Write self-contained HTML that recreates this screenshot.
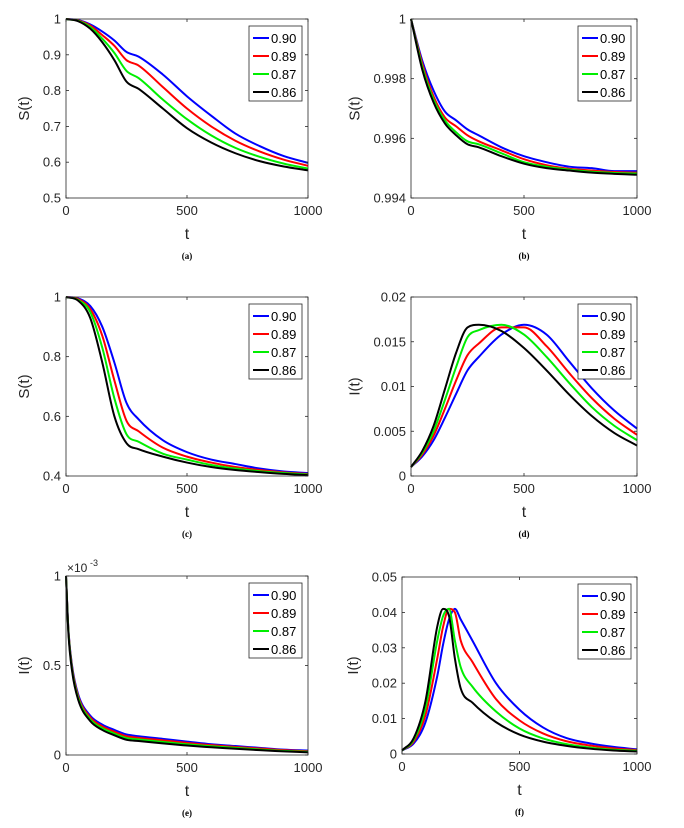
<!DOCTYPE html>
<html><head><meta charset="utf-8">
<style>
body{margin:0;background:#fff;}
svg text{font-family:"Liberation Sans",sans-serif;}
</style></head>
<body>
<svg id="fig" width="684" height="823" xmlns="http://www.w3.org/2000/svg"></svg>
<script>
const legendLabels=["0.90","0.89","0.87","0.86"];
const colors=["#0000ff","#ff0000","#00ee00","#000000"];
// panel a
const tA=[0,50,100,150,200,250,300,400,500,600,700,800,900,1000];
const a90=[1,0.997,0.985,0.965,0.94,0.908,0.895,0.845,0.784,0.73,0.68,0.645,0.617,0.598];
const a89=[1,0.996,0.982,0.955,0.925,0.885,0.87,0.81,0.75,0.70,0.66,0.63,0.607,0.59];
const a87=[1,0.995,0.978,0.945,0.905,0.855,0.835,0.775,0.72,0.675,0.64,0.615,0.596,0.582];
const a86=[1,0.994,0.973,0.935,0.885,0.825,0.805,0.75,0.695,0.655,0.625,0.603,0.588,0.577];
// panel b
const tB=[0,50,100,150,200,250,300,400,500,600,700,800,900,1000];
const b90=[1,0.9986,0.9976,0.9969,0.9966,0.9963,0.9961,0.9957,0.9954,0.9952,0.99505,0.9950,0.9949,0.9949];
const b89=[1,0.9985,0.9974,0.9967,0.9964,0.9961,0.9959,0.9956,0.9953,0.9951,0.99498,0.99492,0.99487,0.99485];
const b87=[1,0.9984,0.9973,0.9966,0.9962,0.9959,0.9958,0.9955,0.9952,0.99505,0.99495,0.99488,0.99484,0.99482];
const b86=[1,0.9983,0.9972,0.9965,0.9961,0.9958,0.9957,0.9954,0.99515,0.995,0.99492,0.99485,0.99481,0.99478];
// panel c
const tC=[0,50,100,150,200,250,300,400,500,600,700,800,900,1000];
const c90=[1,0.995,0.97,0.9,0.78,0.645,0.59,0.52,0.48,0.455,0.44,0.425,0.415,0.41];
const c89=[1,0.993,0.96,0.87,0.72,0.585,0.55,0.495,0.465,0.445,0.43,0.42,0.412,0.407];
const c87=[1,0.99,0.95,0.83,0.66,0.54,0.515,0.475,0.455,0.437,0.425,0.416,0.41,0.405];
const c86=[1,0.988,0.93,0.78,0.6,0.51,0.49,0.465,0.445,0.43,0.42,0.413,0.407,0.403];
// panel d
const tD=[0,50,100,150,200,250,300,400,500,600,700,800,900,1000];
const d90=[0.001,0.0022,0.004,0.0065,0.0092,0.0118,0.0133,0.0158,0.0169,0.0158,0.0128,0.0098,0.0073,0.0053];
const d89=[0.001,0.0024,0.0045,0.0075,0.0107,0.0135,0.0148,0.0166,0.0166,0.0145,0.0115,0.0087,0.0064,0.0046];
const d87=[0.001,0.0026,0.005,0.0085,0.0122,0.0155,0.0163,0.0169,0.0158,0.0133,0.0104,0.0077,0.0056,0.004];
const d86=[0.001,0.0028,0.0056,0.0097,0.0138,0.0166,0.0169,0.0162,0.0143,0.0118,0.0091,0.0067,0.0048,0.0034];
// panel e (x 1e-3)
const tE=[0,10,25,50,100,150,200,250,300,400,500,600,700,800,900,1000];
const e90=[1,0.7,0.5,0.34,0.22,0.17,0.14,0.115,0.105,0.09,0.075,0.06,0.05,0.04,0.03,0.025];
const e89=[1,0.695,0.49,0.33,0.21,0.16,0.13,0.105,0.096,0.082,0.068,0.055,0.045,0.036,0.027,0.021];
const e87=[1,0.69,0.48,0.32,0.2,0.15,0.12,0.095,0.087,0.073,0.06,0.049,0.04,0.031,0.023,0.018];
const e86=[1,0.68,0.47,0.31,0.19,0.14,0.11,0.085,0.078,0.065,0.053,0.043,0.035,0.027,0.02,0.015];
// panel f
const tF=[0,50,100,150,175,200,225,250,300,400,500,600,700,800,900,1000];
const f90=[0.001,0.003,0.009,0.022,0.031,0.038,0.041,0.038,0.032,0.02,0.0125,0.0075,0.0045,0.003,0.002,0.0013];
const f89=[0.001,0.0035,0.011,0.027,0.036,0.041,0.04,0.032,0.026,0.0155,0.0095,0.0058,0.0036,0.0024,0.0016,0.0011];
const f87=[0.001,0.004,0.013,0.032,0.039,0.041,0.032,0.0245,0.019,0.012,0.0072,0.0044,0.0028,0.0018,0.0012,0.0009];
const f86=[0.001,0.0045,0.015,0.036,0.041,0.039,0.027,0.0185,0.0145,0.009,0.0055,0.0035,0.0023,0.0015,0.001,0.0007];

const xTicks=[0,500,1000];
const panels=[
 {id:"a",x0:66,x1:308,y0:19,y1:198,t:tA,s:[a90,a89,a87,a86],ymin:0.5,ymax:1,yt:[0.5,0.6,0.7,0.8,0.9,1],yl:["0.5","0.6","0.7","0.8","0.9","1"],ylab:"S(t)"},
 {id:"b",x0:411,x1:637,y0:19,y1:198,t:tB,s:[b90,b89,b87,b86],ymin:0.994,ymax:1,yt:[0.994,0.996,0.998,1],yl:["0.994","0.996","0.998","1"],ylab:"S(t)"},
 {id:"c",x0:66,x1:308,y0:297,y1:476,t:tC,s:[c90,c89,c87,c86],ymin:0.4,ymax:1,yt:[0.4,0.6,0.8,1],yl:["0.4","0.6","0.8","1"],ylab:"S(t)"},
 {id:"d",x0:411,x1:637,y0:297,y1:476,t:tD,s:[d90,d89,d87,d86],ymin:0,ymax:0.02,yt:[0,0.005,0.01,0.015,0.02],yl:["0","0.005","0.01","0.015","0.02"],ylab:"I(t)"},
 {id:"e",x0:66,x1:308,y0:576,y1:755,t:tE,s:[e90,e89,e87,e86],ymin:0,ymax:1,yt:[0,0.5,1],yl:["0","0.5","1"],ylab:"I(t)",mult:true},
 {id:"f",x0:402,x1:637,y0:577,y1:754,t:tF,s:[f90,f89,f87,f86],ymin:0,ymax:0.05,yt:[0,0.01,0.02,0.03,0.04,0.05],yl:["0","0.01","0.02","0.03","0.04","0.05"],ylab:"I(t)"}
];
const NS="http://www.w3.org/2000/svg";
const svg=document.getElementById("fig");
function mk(tag,attrs,parent,text){const e=document.createElementNS(NS,tag);for(const k in attrs)e.setAttribute(k,attrs[k]);if(text!==undefined)e.textContent=text;parent.appendChild(e);return e;}
// monotone cubic path through data points (in pixel space)
function smoothPath(xs,ys){
 const n=xs.length,d=[],m=new Array(n);
 for(let i=0;i<n-1;i++)d.push((ys[i+1]-ys[i])/(xs[i+1]-xs[i]));
 m[0]=d[0];m[n-1]=d[n-2];
 for(let i=1;i<n-1;i++){m[i]=(d[i-1]*d[i]<=0)?0:(d[i-1]+d[i])/2;}
 for(let i=0;i<n-1;i++){
  if(d[i]===0){m[i]=0;m[i+1]=0;continue;}
  const a=m[i]/d[i],b=m[i+1]/d[i],s=a*a+b*b;
  if(s>9){const t=3/Math.sqrt(s);m[i]=t*a*d[i];m[i+1]=t*b*d[i];}
 }
 let p="M"+xs[0].toFixed(2)+","+ys[0].toFixed(2);
 for(let i=0;i<n-1;i++){
  const h=(xs[i+1]-xs[i])/3;
  p+="C"+(xs[i]+h).toFixed(2)+","+(ys[i]+m[i]*h).toFixed(2)+" "+(xs[i+1]-h).toFixed(2)+","+(ys[i+1]-m[i+1]*h).toFixed(2)+" "+xs[i+1].toFixed(2)+","+ys[i+1].toFixed(2);
 }
 return p;
}
panels.forEach(p=>{
 const g=mk("g",{},svg);
 
 
 const X=v=>p.x0+(v-0)/(1000)*(p.x1-p.x0);
 const Y=v=>p.y1-(v-p.ymin)/(p.ymax-p.ymin)*(p.y1-p.y0);
 p.s.forEach((arr,i)=>{
  const d=smoothPath(p.t.map(X),arr.map(Y));
  const path=mk("path",{d:d,fill:"none",stroke:colors[i],"stroke-width":2,"stroke-linejoin":"round"},g);
  
  
 });
 const box=mk("rect",{x:p.x0,y:p.y0,width:p.x1-p.x0,height:p.y1-p.y0,fill:"none",stroke:"#262626","stroke-width":0.8},g);
 
 
 xTicks.forEach(v=>{
  const x=X(v);
  mk("line",{x1:x,x2:x,y1:p.y1,y2:p.y1-3,stroke:"#262626","stroke-width":0.8},g);
  mk("line",{x1:x,x2:x,y1:p.y0,y2:p.y0+3,stroke:"#262626","stroke-width":0.8},g);
  const tl=mk("text",{x:x,y:p.y1+17,"font-size":13,"text-anchor":"middle",fill:"#262626"},g,String(v));
  
  
 });
 p.yt.forEach((v,i)=>{
  const y=Y(v);
  mk("line",{x1:p.x0,x2:p.x0+3,y1:y,y2:y,stroke:"#262626","stroke-width":0.8},g);
  mk("line",{x1:p.x1,x2:p.x1-3,y1:y,y2:y,stroke:"#262626","stroke-width":0.8},g);
  const tl=mk("text",{x:p.x0-5,y:y+4.5,"font-size":13,"text-anchor":"end",fill:"#262626"},g,p.yl[i]);
  
  
 });
 const xt=mk("text",{x:(p.x0+p.x1)/2,y:p.y1+41,"font-size":16,"text-anchor":"middle",fill:"#262626"},g,"t");
 
 
 const yxl=p.x0-(p.yl.reduce((m,s)=>Math.max(m,s.length),0)*7.3)-15;
 const yc=(p.y0+p.y1)/2;
 const yt=mk("text",{x:yxl,y:yc,"font-size":15,"text-anchor":"middle",fill:"#262626",transform:"rotate(-90 "+yxl+" "+yc+")"},g,p.ylab);
 
 
 const cap=mk("text",{x:(p.x0+p.x1)/2,y:p.y1+61,"font-size":9,"font-weight":"bold","text-anchor":"middle",fill:"#000","style":"font-family:'Liberation Serif',serif"},g,"("+p.id+")");
 
 
 if(p.mult){
  const m=mk("text",{x:p.x0+1,y:p.y0-4,"font-size":12,fill:"#262626"},g,"×10");
  
  
  const m2=mk("text",{x:p.x0+24,y:p.y0-10,"font-size":9,fill:"#262626"},g,"-3");
  
  
 }
 const lx=p.x1-59,ly=p.y0+7;
 const lg=mk("g",{},g);
 
 
 mk("rect",{x:lx,y:ly,width:53,height:75,fill:"#fff",stroke:"#262626","stroke-width":0.8},lg);
 legendLabels.forEach((l,i)=>{
  const yy=ly+12+i*18;
  const e=mk("g",{},lg);
  
  
  mk("line",{x1:lx+4,x2:lx+20,y1:yy,y2:yy,stroke:colors[i],"stroke-width":2},e);
  mk("text",{x:lx+22,y:yy+5,"font-size":13,fill:"#000"},e,l);
 });
});
</script>
</body></html>
